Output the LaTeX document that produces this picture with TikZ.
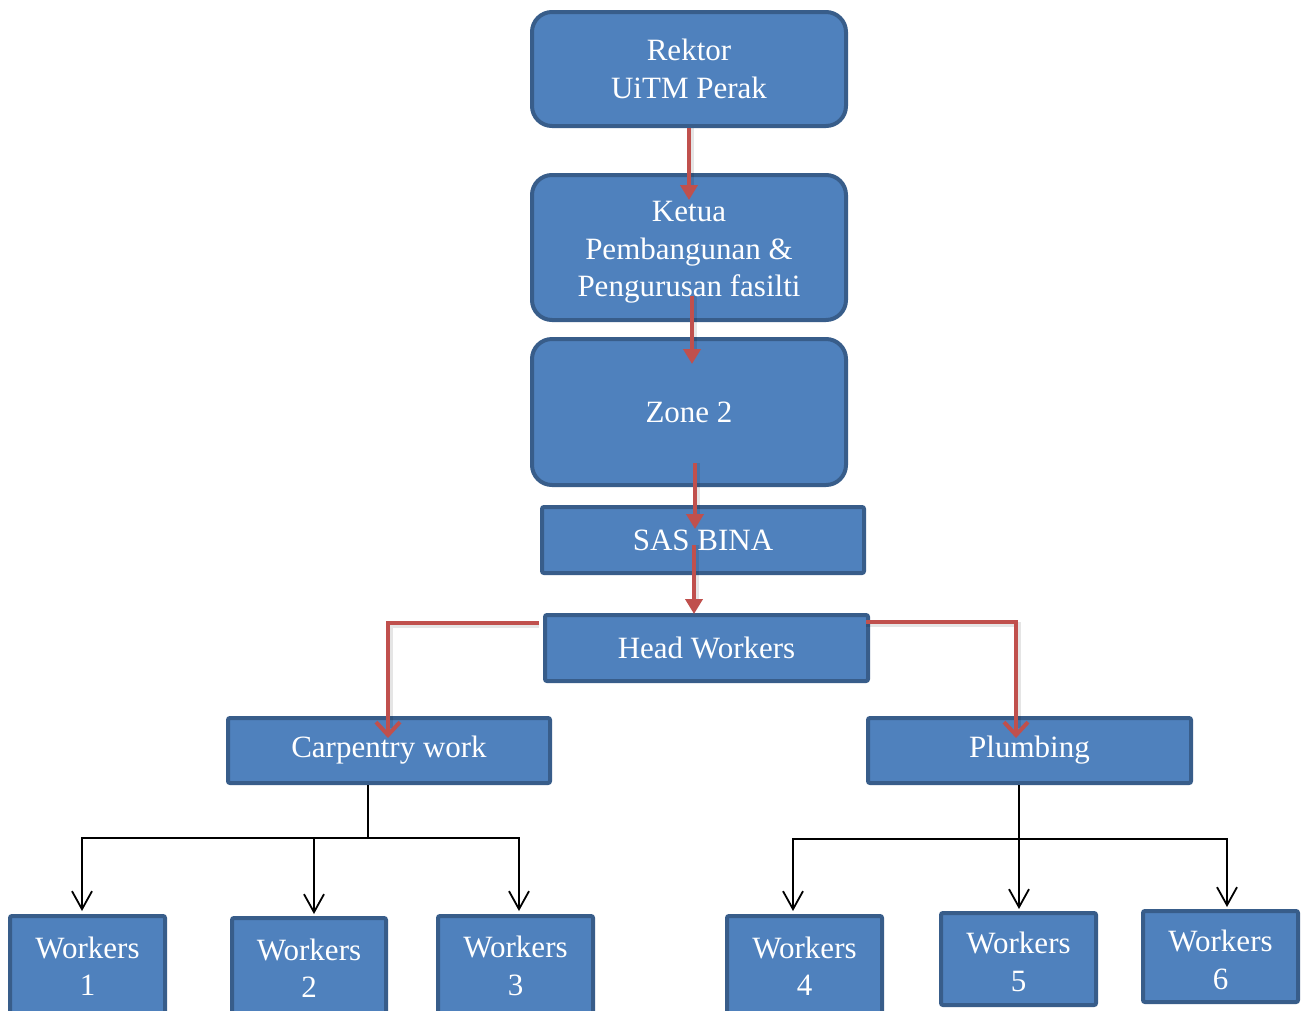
\documentclass[tikz,border=0pt]{standalone}
\usepackage{fontspec}
\setmainfont{Liberation Serif}
\usetikzlibrary{arrows.meta,calc}
\definecolor{boxfill}{HTML}{4F81BD}
\definecolor{boxline}{HTML}{385D8A}
\definecolor{redline}{HTML}{C0504D}
\tikzset{
  orgbox/.style={draw=boxline, fill=boxfill, line width=4pt, text=white, align=center,
    inner sep=0pt, font=\fontsize{31}{37.5}\selectfont},
  roundbox/.style={orgbox, rounded corners=20pt},
  flatbox/.style={orgbox, rounded corners=2pt},
  boxtext/.style={text=white, align=center, inner sep=0pt, font=\fontsize{31}{37.5}\selectfont},
  redarrow/.style={draw=redline, line width=4pt, -{Triangle[width=17pt,length=15pt]}},
  redelbow/.style={draw=redline, line width=4pt, -{Straight Barb[width=24pt,length=13pt,line width=4pt]}},
  redshadow/.style={draw=black, opacity=0.10, line width=5pt},
  blkarrow/.style={draw=black, line width=1.8pt, -{Straight Barb[width=20pt,length=18pt,line width=1.8pt]}},
  blkline/.style={draw=black, line width=1.8pt},
}
\begin{document}
\begin{tikzpicture}[x=1pt,y=-1pt]
\useasboundingbox (0,0) rectangle (1306,1010);
\fill[white] (0,0) rectangle (1306,1010);

% boxes
\node[roundbox, minimum width=314, minimum height=114] (rektor) at (689,69) {Rektor\\UiTM Perak};
\node[roundbox, minimum width=314, minimum height=145] (ketua) at (689,247.5) {};
\node[boxtext] (ketuatext) at ($(ketua.center)+(0,5)$) {Ketua\\Pembangunan \&\\Pengurusan fasilti};
\node[roundbox, minimum width=314, minimum height=146] (zone) at (689,412) {Zone 2};
\node[flatbox, minimum width=322, minimum height=66] (sas) at (703,540) {SAS BINA};
\node[flatbox, minimum width=323, minimum height=66] (head) at (706.5,648) {Head Workers};
\node[flatbox, minimum width=322, minimum height=65] (carp) at (389,750.5) {Carpentry work};
\node[flatbox, minimum width=323, minimum height=65] (plumb) at (1029.5,750.5) {Plumbing};

\node[flatbox, minimum width=155, minimum height=100] (w1) at (87.5,966) {Workers\\1};
\node[flatbox, minimum width=154, minimum height=100] (w2) at (309,968) {Workers\\2};
\node[flatbox, minimum width=155, minimum height=100] (w3) at (515.5,966) {Workers\\3};
\node[flatbox, minimum width=155, minimum height=100] (w4) at (804.5,966) {Workers\\4};
\node[flatbox, minimum width=155, minimum height=92] (w5) at (1018.5,959) {};
\node[boxtext] (w5text) at ($(w5.center)+(0,3)$) {Workers\\5};
\node[flatbox, minimum width=155, minimum height=91] (w6) at (1220.5,956.5) {};
\node[boxtext] (w6text) at ($(w6.center)+(0,3.5)$) {Workers\\6};

% red connectors
\coordinate (r1a) at (rektor.south);
\coordinate (r1b) at ($(ketua.north)+(0,27)$);
\coordinate (r2a) at ($(ketua.south)+(3,-26)$);
\coordinate (r2b) at ($(zone.north)+(3,27)$);
\coordinate (r3a) at ($(zone.south)+(6,-24)$);
\coordinate (r3b) at ($(sas.north)+(-8,24)$);
\coordinate (r4a) at ($(sas.center)+(-9,5)$);
\coordinate (r4b) at ($(head.north)+(-12.5,1)$);
\coordinate (r5a) at ($(head.west)+(-4,-25)$);
\coordinate (r5b) at ($(carp.north)+(-1,22)$);
\coordinate (r6a) at ($(head.east)+(-4,-26)$);
\coordinate (r6b) at ($(plumb.north)+(-13.5,22)$);

\foreach \a/\b in {r1a/r1b,r2a/r2b,r3a/r3b,r4a/r4b}
  \draw[redshadow] ($(\a)+(2,0)$) -- ($(\b)+(2,-10)$);
\draw[redshadow] ($(r5a)+(0,2)$) -| ($(r5b)+(2,-10)$);
\draw[redshadow] ($(r6a)+(0,2)$) -| ($(r6b)+(2,-10)$);

\draw[redarrow] (r1a) -- (r1b);
\draw[redarrow] (r2a) -- (r2b);
\draw[redarrow] (r3a) -- (r3b);
\draw[redarrow] (r4a) -- (r4b);
\draw[redelbow] (r5a) -| (r5b);
\draw[redelbow] (r6a) -| (r6b);

% black tree, carpentry
\coordinate (cj) at ($(carp.south)+(-21,0)$);
\coordinate (cbar) at ($(cj)+(0,53)$);
\draw[blkline] (cj) -- (cbar);
\draw[blkarrow] (cbar) -| ($(w1.north)+(-5.5,-3)$);
\draw[blkarrow] (cbar) -| ($(w2.north)+(5,-2)$);
\draw[blkarrow] (cbar) -| ($(w3.north)+(3.5,-3)$);

% black tree, plumbing
\coordinate (pj) at ($(plumb.south)+(-10.5,0)$);
\coordinate (pbar) at ($(pj)+(0,54)$);
\draw[blkarrow] (pj) -- ($(w5.north)+(0.5,-2)$);
\draw[blkarrow] (pbar) -| ($(w4.north)+(-11.5,-3)$);
\draw[blkarrow] (pbar) -| ($(w6.north)+(6.5,-2)$);
\end{tikzpicture}
\end{document}
